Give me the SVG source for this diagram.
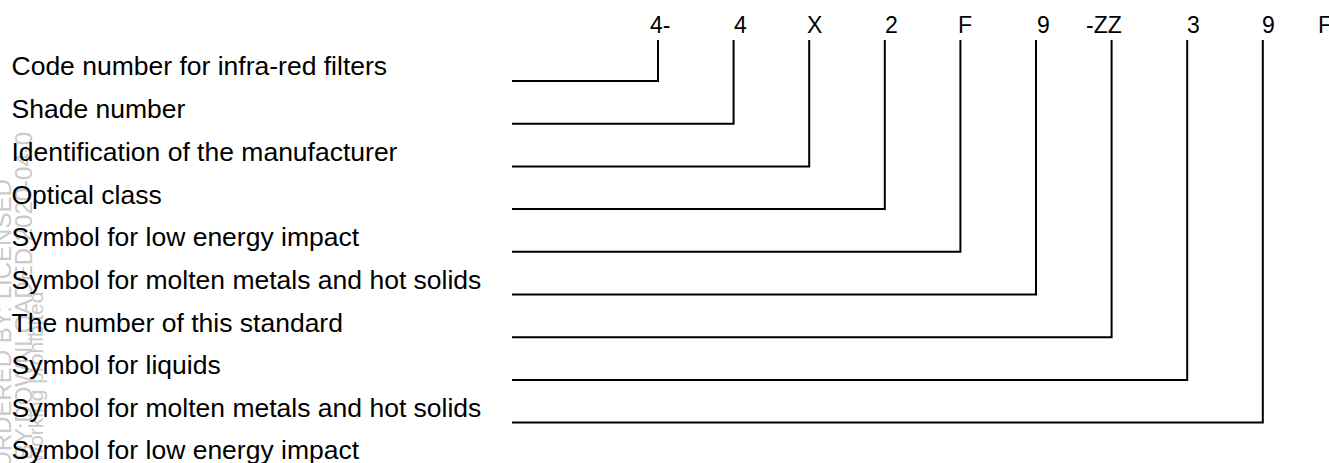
<svg xmlns="http://www.w3.org/2000/svg" width="1329" height="463" viewBox="0 0 1329 463">
  <style>
    .lbl { font-family: "Liberation Sans", Arial, sans-serif; font-size: 26.5px; fill: #000; }
    .code { font-family: "Liberation Sans", Arial, sans-serif; font-size: 23px; fill: #000; }
    .wm { font-family: "Liberation Sans", Arial, sans-serif; font-size: 24px; fill: #cacaca; }
    .wm2 { font-family: "Liberation Sans", Arial, sans-serif; font-size: 21px; fill: #cacaca; }
    .lead { fill: none; stroke: #000; stroke-width: 2; stroke-linejoin: miter; stroke-linecap: butt; }
  </style>
  <rect width="1329" height="463" fill="#fff"/>

  <!-- faint vertical stamp along the left margin -->
  <g id="stamp">
    <text class="wm" transform="translate(11,470) rotate(-90)">ORDERED BY: LICENSED</text>
    <text class="wm" transform="translate(32,460) rotate(-90)">BY:DOWNLOADED 2020-04-0</text>
    <text class="wm2" transform="translate(43,462) rotate(-90)">working prohibited</text>
  </g>

  <!-- code characters along the top -->
  <g id="code">
    <text class="code" x="650" y="32.5">4-</text>
    <text class="code" x="734" y="32.5">4</text>
    <text class="code" x="807" y="32.5">X</text>
    <text class="code" x="885" y="32.5">2</text>
    <text class="code" x="958" y="32.5">F</text>
    <text class="code" x="1037" y="32.5">9</text>
    <text class="code" x="1086" y="32.5">-ZZ</text>
    <text class="code" x="1187" y="32.5">3</text>
    <text class="code" x="1262" y="32.5">9</text>
    <text class="code" x="1318" y="32.5">F</text>
  </g>

  <!-- meaning of each character -->
  <g id="n1"><text class="lbl" x="11.5" y="75.3">Code number for infra-red filters</text></g>
  <g id="n2"><text class="lbl" x="11.5" y="118">Shade number</text></g>
  <g id="n3"><text class="lbl" x="11.5" y="160.7">Identification of the manufacturer</text></g>
  <g id="n4"><text class="lbl" x="11.5" y="203.5">Optical class</text></g>
  <g id="n5"><text class="lbl" x="11.5" y="246.2">Symbol for low energy impact</text></g>
  <g id="n6"><text class="lbl" x="11.5" y="288.9">Symbol for molten metals and hot solids</text></g>
  <g id="n7"><text class="lbl" x="11.5" y="331.6">The number of this standard</text></g>
  <g id="n8"><text class="lbl" x="11.5" y="374.3">Symbol for liquids</text></g>
  <g id="n9"><text class="lbl" x="11.5" y="417.1">Symbol for molten metals and hot solids</text></g>
  <g id="n10"><text class="lbl" x="11.5" y="458.5">Symbol for low energy impact</text></g>

  <!-- leader lines from each label up to its character -->
  <g id="connectors">
    <path class="lead" d="M512 81H658V40"/>
    <path class="lead" d="M512 123.7H733.6V40"/>
    <path class="lead" d="M512 166.4H809.2V40"/>
    <path class="lead" d="M512 209.1H884.8V40"/>
    <path class="lead" d="M512 251.8H960.4V40"/>
    <path class="lead" d="M512 294.5H1036V40"/>
    <path class="lead" d="M512 337.2H1111.6V40"/>
    <path class="lead" d="M512 379.9H1187.2V40"/>
    <path class="lead" d="M512 422.6H1262.8V40"/>
  </g>
</svg>
